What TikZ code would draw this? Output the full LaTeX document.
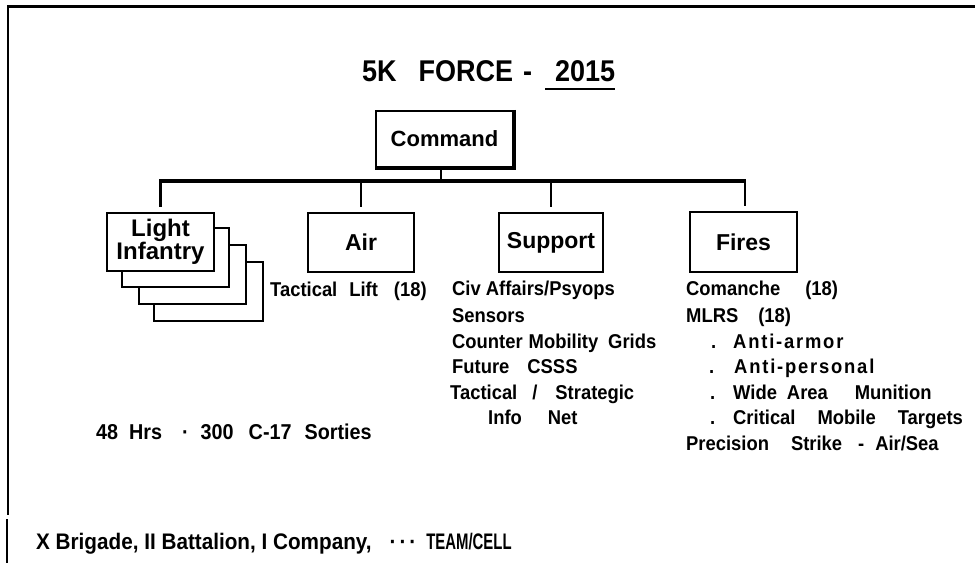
\documentclass[tikz,border=0pt]{standalone}
\usepackage{fontspec}
\usepackage{graphicx}
\setmainfont{Liberation Sans}
\newfontfamily\titlefont{Liberation Sans}[FakeStretch=0.9]
\newfontfamily\bodyfont{Liberation Sans}[FakeStretch=0.92]
\newfontfamily\spacedfont{Liberation Sans}[FakeStretch=0.92,LetterSpace=9]
\newcommand{\myfs}[1]{\fontsize{#1pt}{#1pt}\selectfont}
\begin{document}
\begin{tikzpicture}[x=1pt,y=-1pt,
  box/.style={draw, line width=2.3pt, fill=white, inner sep=0pt, font=\bfseries\myfs{23}},
  txt/.style={anchor=base west, inner sep=0pt, font=\bodyfont\bfseries\myfs{20}},
  link/.style={line width=2.5pt},
  rail/.style={line width=3.5pt},
  frame/.style={line width=2pt}]
\useasboundingbox (0,0) rectangle (975,572);
\fill[white] (0,0) rectangle (975,572);
% frame (top and left only)
\coordinate (ftl) at (7,7);
\coordinate (ftr) at (975,7);
\coordinate (fl1) at (8,515);
\coordinate (fl2a) at (7,519);
\coordinate (fl2b) at (7,563);
\draw[line width=3pt] (ftl) -- (ftr);
\draw[frame] ([yshift=1pt]ftl -| fl1) -- (fl1);
\draw[frame] (fl2a) -- (fl2b);
% title
\node[anchor=base west, inner sep=0pt, font=\titlefont\bfseries\myfs{30}] (title) at (362,82)
  {5K\hspace{22pt}FORCE\hspace{10pt}-};
\node[anchor=base west, inner sep=0pt, font=\titlefont\bfseries\myfs{30}] (year) at (555,82) {2015};
\draw[line width=2pt] ([shift={(-10pt,-7pt)}]year.base west) -- ([yshift=-7pt]year.base east);
% command
\node[box, font=\bfseries\myfs{22}, minimum width=137pt, minimum height=56pt] (cmd) at (444.5,139) {Command\hspace{10pt}};
\draw[line width=3pt] (cmd.north east) -- (cmd.south east) -- (cmd.south west);
% rail
\coordinate (barL) at (160,181);
\coordinate (barR) at (745,181);
\draw[rail] ([xshift=-1pt]barL) -- ([xshift=1pt]barR);
\draw[link] ([xshift=-3.5pt]cmd.south) -- ([xshift=-3.5pt]cmd.south |- barL);
% light infantry stack
\node[box, minimum width=109pt, minimum height=59pt] (li4) at (208.5,291.5) {};
\node[box, minimum width=107pt, minimum height=59pt] (li3) at (192.5,274.5) {};
\node[box, minimum width=107pt, minimum height=59pt] (li2) at (175.5,257.5) {};
\node[box, minimum width=107pt, minimum height=58pt, align=center,
      font=\bfseries\fontsize{24pt}{21pt}\selectfont] (li) at (160.5,242) {Light\\Infantry};
% other boxes
\node[box, minimum width=106pt, minimum height=59pt] (air) at (361,242.5) {Air};
\node[box, minimum width=104pt, minimum height=59pt] (sup) at (551,242.5) {Support};
\node[box, minimum width=107pt, minimum height=60pt] (fir) at (743.5,242) {Fires};
% drops
\draw[link] (li.north |- barL) -- ([yshift=5pt]li.north);
\draw[link] (air.north |- barL) -- ([yshift=5pt]air.north);
\draw[link] (sup.north |- barL) -- ([yshift=5pt]sup.north);
\draw[link] (barR) -- ([yshift=5pt]fir.north -| barR);
% air text
\node[txt] (airt) at (270,297) {Tactical\hspace{12pt}Lift\hspace{16pt}(18)};
% support list
\node[txt] (s1) at (452,295) {Civ Affairs/Psyops};
\node[txt] (s2) at (452,322) {Sensors};
\node[txt] (s3) at (452,348) {Counter\hspace{6pt}Mobility\hspace{10pt}Grids};
\node[txt] (s4) at (452,373) {Future\hspace{18pt}CSSS};
\node[txt] (s5) at (450,399) {Tactical\hspace{15pt}/\hspace{18pt}Strategic};
\node[txt] (s6) at (488,424) {Info\hspace{26pt}Net};
% fires list
\node[txt] (f1) at (686,295) {Comanche\hspace{25pt}(18)};
\node[txt] (f2) at (686,322) {MLRS\hspace{20pt}(18)};
\node[txt] (f3) at (711,348) {\makebox[22pt][l]{.}{\spacedfont Anti-armor}};
\node[txt] (f4) at (709,373) {\makebox[25pt][l]{.}{\spacedfont Anti-personal}};
\node[txt] (f5) at (710,399) {\makebox[23pt][l]{.}Wide\hspace{10pt}Area\hspace{27pt}Munition};
\node[txt] (f6) at (710,424) {\makebox[23pt][l]{.}Critical\hspace{22pt}Mobile\hspace{22pt}Targets};
\node[txt] (f7) at (686,450) {Precision\hspace{22pt}Strike\hspace{16pt}-\hspace{11pt}Air/Sea};
% lift line
\node[txt, font=\bodyfont\bfseries\myfs{21.5}] (lift) at (96,439)
  {48\hspace{11pt}Hrs\hspace{20pt}·\hspace{12pt}300\hspace{15pt}C-17\hspace{13pt}Sorties};
% bottom line
\node[txt, font=\bodyfont\bfseries\myfs{22.5}] (bot) at (36,549)
  {X Brigade, II Battalion, I Company,\hspace{18pt}·\hspace{3pt}·\hspace{3pt}·\hspace{10pt}\scalebox{0.72}[1]{TEAM/CELL}};
\end{tikzpicture}
\end{document}
